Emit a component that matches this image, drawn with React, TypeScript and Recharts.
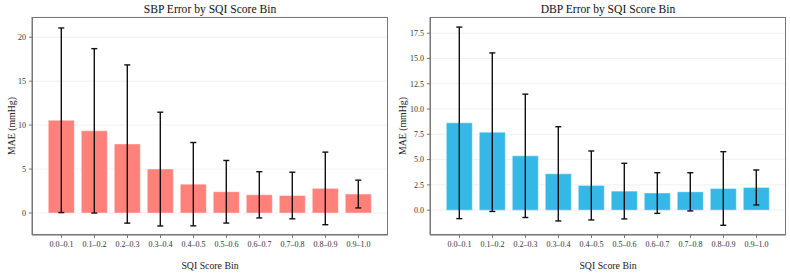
import { BarChart, Bar, XAxis, YAxis, CartesianGrid, ErrorBar } from 'recharts';

const bins = ['0.0–0.1', '0.1–0.2', '0.2–0.3', '0.3–0.4', '0.4–0.5', '0.5–0.6', '0.6–0.7', '0.7–0.8', '0.8–0.9', '0.9–1.0'];

// mean absolute error and its standard deviation per SQI bin
const sbpMae = [10.55, 9.35, 7.85, 5.0, 3.28, 2.42, 2.07, 1.99, 2.8, 2.16];
const sbpStd = [10.5, 9.35, 9.0, 6.47, 4.74, 3.56, 2.63, 2.65, 4.13, 1.58];
const dbpMae = [8.63, 7.71, 5.37, 3.59, 2.44, 1.88, 1.69, 1.81, 2.14, 2.24];
const dbpStd = [9.47, 7.84, 6.1, 4.66, 3.41, 2.75, 2.01, 1.89, 3.64, 1.73];

const sbpTicks = [0, 5, 10, 15, 20];
const dbpTicks = [0, 2.5, 5, 7.5, 10, 12.5, 15, 17.5];

const FONT = '"Liberation Serif", "DejaVu Serif", serif';
const AXIS = '#777';
const PLOT_TOP = 17;
const X_AXIS_H = 39;
const W = 395;
const H = 274;

interface PanelProps {
  title: string;
  mae: number[];
  std: number[];
  fill: string;
  ticks: number[];
  domain: [number, number];
  decimals: number;
  yWidth: number;
  rightMargin: number;
  labelOffset: number;
}

function ErrorPanel({ title, mae, std, fill, ticks, domain, decimals, yWidth, rightMargin, labelOffset }: PanelProps) {
  const data = bins.map((bin, i) => ({ bin, mae: mae[i], std: std[i] }));
  const plotLeft = yWidth;
  const plotRight = W - rightMargin;
  const tickStyle = { fontSize: 8, fill: '#333', fontFamily: FONT };

  return (
    <div style={{ position: 'relative', width: W, height: H }}>
      <div
        style={{
          position: 'absolute',
          left: plotLeft,
          width: plotRight - plotLeft,
          top: 3,
          textAlign: 'center',
          fontSize: 11.6,
          lineHeight: '14px',
          color: '#111',
        }}
      >
        {title}
      </div>
      <BarChart
        width={W}
        height={H}
        data={data}
        margin={{ top: PLOT_TOP, right: rightMargin, bottom: 0, left: 0 }}
        barCategoryGap="10%"
      >
        <CartesianGrid vertical={false} stroke="#ececec" strokeWidth={0.8} />
        <XAxis
          dataKey="bin"
          height={X_AXIS_H}
          padding={{ left: 13, right: 13 }}
          tick={tickStyle}
          tickSize={3}
          tickMargin={3}
          stroke={AXIS}
          interval={0}
          label={{ value: 'SQI Score Bin', position: 'insideBottom', offset: 5, fontSize: 9.8, fill: '#222', fontFamily: FONT }}
        />
        <YAxis
          width={yWidth}
          domain={domain}
          ticks={ticks}
          allowDataOverflow
          tick={tickStyle}
          tickSize={3}
          tickMargin={3}
          stroke={AXIS}
          tickFormatter={(v: number) => v.toFixed(decimals)}
          label={{
            value: 'MAE (mmHg)',
            angle: -90,
            position: 'insideLeft',
            offset: labelOffset,
            fontSize: 9.8,
            fill: '#222',
            fontFamily: FONT,
            style: { textAnchor: 'middle' },
          }}
        />
        <Bar dataKey="mae" fill={fill} stroke="#fff" strokeOpacity={0.5} strokeWidth={0.8} isAnimationActive={false}>
          <ErrorBar dataKey="std" direction="y" width={3} stroke="#111" strokeWidth={1.4} isAnimationActive={false} />
        </Bar>
      </BarChart>
      {/* box around the plot area */}
      <div
        style={{
          position: 'absolute',
          left: plotLeft,
          top: PLOT_TOP,
          width: plotRight - plotLeft,
          height: H - X_AXIS_H - PLOT_TOP,
          boxSizing: 'border-box',
          border: `1px solid ${AXIS}`,
          pointerEvents: 'none',
        }}
      />
    </div>
  );
}

export default function App() {
  return (
    <div
      style={{
        position: 'absolute',
        left: 0,
        top: 0,
        width: 790,
        height: 274,
        background: '#fff',
        fontFamily: FONT,
        display: 'flex',
      }}
    >
      <ErrorPanel
        title="SBP Error by SQI Score Bin"
        mae={sbpMae}
        std={sbpStd}
        fill="#ff8179"
        ticks={sbpTicks}
        domain={[-2.5, 22.3]}
        decimals={0}
        yWidth={32}
        rightMargin={7}
        labelOffset={12}
      />
      <ErrorPanel
        title="DBP Error by SQI Score Bin"
        mae={dbpMae}
        std={dbpStd}
        fill="#36b8e6"
        ticks={dbpTicks}
        domain={[-2.46, 19.1]}
        decimals={1}
        yWidth={35}
        rightMargin={4}
        labelOffset={8}
      />
    </div>
  );
}
